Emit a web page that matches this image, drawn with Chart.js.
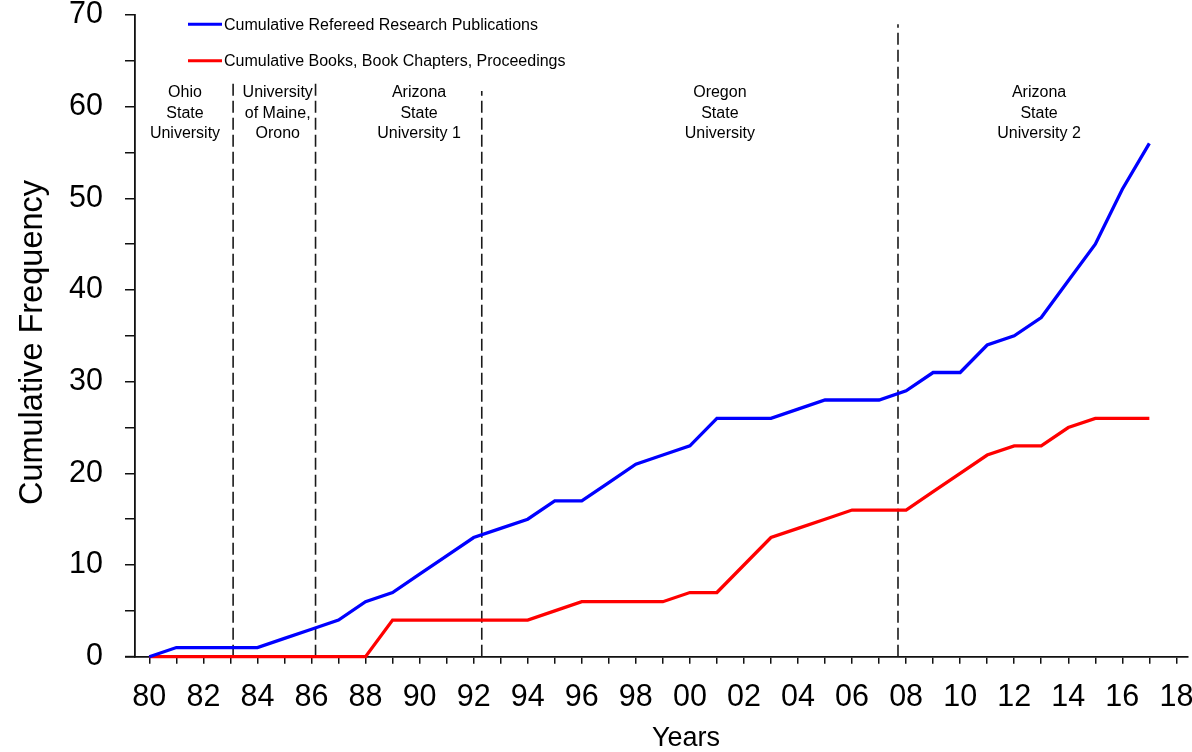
<!DOCTYPE html>
<html>
<head>
<meta charset="utf-8">
<script src="https://cdn.jsdelivr.net/npm/chart.js@4"></script>
<style>
  html, body { margin: 0; padding: 0; background: #fff; }
  #wrap { width: 1192px; height: 752px; position: relative; }
</style>
</head>
<body>
<div id="wrap"><canvas id="chart"></canvas></div>
<script>
// data
const years = [1980, 1981, 1982, 1983, 1984, 1985, 1986, 1987, 1988, 1989,
  1990, 1991, 1992, 1993, 1994, 1995, 1996, 1997, 1998, 1999,
  2000, 2001, 2002, 2003, 2004, 2005, 2006, 2007, 2008, 2009,
  2010, 2011, 2012, 2013, 2014, 2015, 2016, 2017];
const refereed = [0, 1, 1, 1, 1, 2, 3, 4, 6, 7,
  9, 11, 13, 14, 15, 17, 17, 19, 21, 22,
  23, 26, 26, 26, 27, 28, 28, 28, 29, 31,
  31, 34, 35, 37, 41, 45, 51, 56];
const books = [0, 0, 0, 0, 0, 0, 0, 0, 0, 4,
  4, 4, 4, 4, 4, 5, 6, 6, 6, 6,
  7, 7, 10, 13, 14, 15, 16, 16, 16, 18,
  20, 22, 23, 23, 25, 26, 26, 26];
const seriesNames = ["Cumulative Refereed Research Publications", "Cumulative Books, Book Chapters, Proceedings"];

// job changes (dashed lines) and the height each dashed line reaches
const moveYears = [1983.1, 1986.15, 1992.3, 2007.7];
const moveTops = [62.9, 62.9, 61.7, 69.0];
const placeNames = [
  ["Ohio", "State", "University"],
  ["University", "of Maine,", "Orono"],
  ["Arizona", "State", "University 1"],
  ["Oregon", "State", "University"],
  ["Arizona", "State", "University 2"],
];

const xTickYears = [];
for (let y = 1980; y <= 2018; y++) xTickYears.push(y);
const xTickLabels = ["80", "82", "84", "86", "88", "90", "92", "94", "96", "98",
  "00", "02", "04", "06", "08", "10", "12", "14", "16", "18"];
const yTickLabels = ["0", "10", "20", "30", "40", "50", "60", "70"];

const FONT = "'Liberation Sans', Arial, Helvetica, sans-serif";

const datasets = [
  {
    label: seriesNames[0],
    data: years.map((y, i) => ({ x: y, y: refereed[i] })),
    borderColor: "#0000ff",
    borderWidth: 3.3,
    pointRadius: 0,
    tension: 0,
    clip: false,
    order: 1,
  },
  {
    label: seriesNames[1],
    data: years.map((y, i) => ({ x: y, y: books[i] })),
    borderColor: "#ff0000",
    borderWidth: 3.3,
    pointRadius: 0,
    tension: 0,
    clip: false,
    order: 2,
  },
];
moveYears.forEach((yr, i) => {
  datasets.push({
    label: "move" + i,
    data: [{ x: yr, y: 0 }, { x: yr, y: moveTops[i] }],
    borderColor: "#1a1a1a",
    borderWidth: 1.6,
    borderDash: [12, 5],
    pointRadius: 0,
    clip: false,
    order: 3,
  });
});

// legend lines + place labels + axis titles
const annotations = {
  id: "annotations",
  afterDatasetsDraw(chart) {
    const ctx = chart.ctx;
    const xs = chart.scales.x;
    ctx.save();

    // x axis line runs a little past the y axis, as in the original
    ctx.strokeStyle = "#111";
    ctx.lineWidth = 1.8;
    ctx.beginPath();
    ctx.moveTo(125, chart.chartArea.bottom);
    ctx.lineTo(chart.chartArea.left, chart.chartArea.bottom);
    ctx.stroke();

    // legend
    const legendY = [24.3, 60.7];
    ctx.font = "16px " + FONT;
    ctx.textBaseline = "middle";
    ctx.textAlign = "left";
    [0, 1].forEach((i) => {
      ctx.strokeStyle = chart.data.datasets[i].borderColor;
      ctx.lineWidth = 3;
      ctx.beginPath();
      ctx.moveTo(188, legendY[i]);
      ctx.lineTo(222, legendY[i]);
      ctx.stroke();
      ctx.fillStyle = "#000";
      ctx.fillText(chart.data.datasets[i].label, 224, legendY[i] + 1);
    });

    // place labels
    const placeX = [1981.32, 1984.75, 1989.98, 2001.11, 2012.92];
    const lineY = [92, 112.5, 133];
    ctx.textAlign = "center";
    placeNames.forEach((lines, i) => {
      const px = xs.getPixelForValue(placeX[i]);
      lines.forEach((t, j) => ctx.fillText(t, px, lineY[j] + 1));
    });

    // axis titles
    ctx.textBaseline = "alphabetic";
    ctx.font = "27px " + FONT;
    ctx.fillText("Years", 686, 746);
    ctx.translate(41.7, 342.5);
    ctx.rotate(-Math.PI / 2);
    ctx.font = "32.5px " + FONT;
    ctx.fillText("Cumulative Frequency", 0, 0);
    ctx.restore();
  },
};

new Chart(document.getElementById("chart"), {
  type: "line",
  data: { datasets: datasets },
  options: {
    responsive: true,
    maintainAspectRatio: false,
    animation: false,
    layout: { padding: { top: 15, right: 4, left: 0, bottom: 0 } },
    plugins: {
      legend: { display: false },
      tooltip: { enabled: false },
    },
    scales: {
      x: {
        type: "linear",
        min: 1979.47,
        max: 2018.43,
        afterBuildTicks: (scale) => {
          scale.ticks = xTickYears.map((v) => ({ value: v }));
        },
        afterFit: (scale) => {
          scale.height = 95.3;
          scale.paddingLeft = 0;
          scale.paddingRight = 0;
        },
        ticks: {
          autoSkip: false,
          maxRotation: 0,
          minRotation: 0,
          padding: 19,
          color: "#000",
          font: { family: FONT, size: 30.5, lineHeight: 1 },
          callback: (v, i) => (i % 2 === 0 ? xTickLabels[i / 2] : ""),
        },
        grid: {
          display: true,
          drawOnChartArea: false,
          drawTicks: true,
          tickLength: 7,
          color: "#111",
          lineWidth: 1.5,
        },
        border: { display: true, color: "#111", width: 1.8 },
      },
      y: {
        min: 0,
        max: 70,
        afterFit: (scale) => {
          scale.width = 135;
          scale.paddingTop = 0;
          scale.paddingBottom = 0;
        },
        ticks: {
          stepSize: 5,
          padding: 22,
          color: "#000",
          font: { family: FONT, size: 30.5, lineHeight: 1 },
          callback: (v) => (v % 10 === 0 ? yTickLabels[v / 10] : ""),
        },
        grid: {
          display: true,
          drawOnChartArea: false,
          drawTicks: true,
          tickLength: 10,
          color: "#111",
          lineWidth: 1.5,
        },
        border: { display: true, color: "#111", width: 1.8 },
      },
    },
  },
  plugins: [annotations],
});
</script>
</body>
</html>
